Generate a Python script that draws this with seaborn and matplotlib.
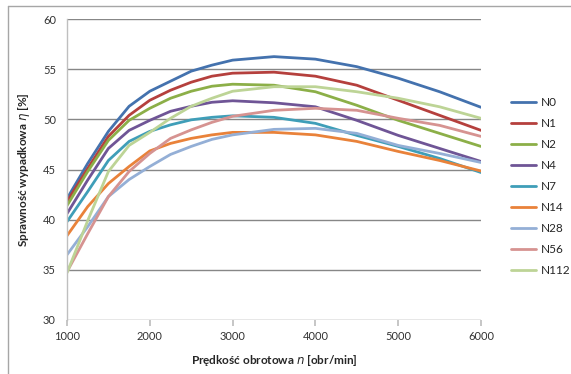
import matplotlib
matplotlib.use("Agg")
import matplotlib.pyplot as plt
import matplotlib.lines as mlines
import seaborn as sns
import pandas as pd

rpm = [1000, 1250, 1500, 1750, 2000, 2250, 2500, 2750, 3000, 3500, 4000, 4500, 5000, 5500, 6000]
series_names = ["N0", "N1", "N2", "N4", "N7", "N14", "N28", "N56", "N112"]
N0 = [42.1, 45.6, 48.8, 51.3, 52.8, 53.8, 54.8, 55.4, 55.9, 56.25, 56.0, 55.25, 54.1, 52.75, 51.2]
N1 = [41.8, 45.1, 48.3, 50.4, 51.9, 52.9, 53.7, 54.3, 54.6, 54.7, 54.3, 53.4, 51.9, 50.4, 48.9]
N2 = [41.4, 44.8, 47.9, 49.9, 51.1, 52.1, 52.8, 53.3, 53.5, 53.4, 52.75, 51.4, 49.9, 48.6, 47.3]
N4 = [40.6, 43.95, 47.1, 48.9, 49.9, 50.8, 51.3, 51.7, 51.85, 51.65, 51.25, 49.9, 48.4, 47.1, 45.8]
N7 = [39.8, 42.8, 45.9, 47.8, 48.8, 49.45, 49.95, 50.2, 50.35, 50.2, 49.6, 48.4, 47.3, 46.1, 44.7]
N14 = [38.4, 41.3, 43.6, 45.3, 46.85, 47.6, 48.1, 48.45, 48.7, 48.7, 48.45, 47.8, 46.8, 45.9, 44.85]
N28 = [36.5, 39.3, 42.3, 44.0, 45.3, 46.5, 47.3, 48.0, 48.45, 49.0, 49.1, 48.6, 47.4, 46.6, 45.7]
N56 = [34.8, 38.6, 42.3, 44.8, 46.6, 48.1, 48.95, 49.7, 50.3, 50.9, 51.1, 50.9, 50.1, 49.4, 48.3]
N112 = [34.7, 39.9, 44.8, 47.4, 48.7, 50.1, 51.3, 52.1, 52.8, 53.25, 53.25, 52.75, 52.1, 51.25, 50.1]
values = [N0, N1, N2, N4, N7, N14, N28, N56, N112]
colors = ["#4472AE", "#B5403D", "#8CAF48", "#6F5596", "#3F9EB8",
          "#E9823A", "#94AFD6", "#D69391", "#BDD496"]
y_ticks = [30, 35, 40, 45, 50, 55, 60]
x_ticks = [1000, 2000, 3000, 4000, 5000, 6000]

rows = []
for name, vals in zip(series_names, values):
    for x, y in zip(rpm, vals):
        rows.append({"rpm": x, "eta": y, "series": name})
df = pd.DataFrame(rows)

sns.set_theme(style="white")
plt.rcParams["font.family"] = ["Lato", "DejaVu Sans"]
plt.rcParams["mathtext.fontset"] = "dejavusans"

fig = plt.figure(figsize=(5.71, 3.74), dpi=100)
W, H = 571, 374
ax = fig.add_axes([67 / W, 1 - 320 / H, (481 - 67) / W, (320 - 19) / H])

sns.lineplot(data=df, x="rpm", y="eta", hue="series", hue_order=series_names,
             palette=colors, linewidth=2.0, ax=ax, legend=False, sort=True)
for ln in ax.get_lines():
    ln.set_solid_joinstyle("round")
    ln.set_solid_capstyle("round")

ax.set_xlim(1000, 6000)
ax.set_ylim(30, 60)
ax.set_xticks(x_ticks)
ax.set_yticks(y_ticks)
ax.set_xticklabels([str(t) for t in x_ticks], fontsize=8, color="#333333")
ax.set_yticklabels([str(t) for t in y_ticks], fontsize=8, color="#333333")
for yt in y_ticks:
    ax.axhline(yt, color="#878787", linewidth=1.0, zorder=0)
for s in ["top", "right", "bottom"]:
    ax.spines[s].set_visible(False)
ax.spines["left"].set_color("#BFBFBF")
ax.spines["left"].set_linewidth(1.0)
ax.tick_params(axis="y", length=0, pad=8)
ax.tick_params(axis="x", length=4, color="#BFBFBF", direction="out", pad=4, bottom=True)
ax.set_xlabel(r"Prędkość obrotowa $\mathit{n}$ [obr/min]", fontsize=8.5,
              fontweight="bold", labelpad=8)
ax.set_ylabel(r"Sprawność wypadkowa $\mathit{\eta}$ [%]", fontsize=8.5,
              fontweight="bold", labelpad=8)

handles = [mlines.Line2D([0], [0], color=c, linewidth=2.0) for c in colors]
leg = fig.legend(handles, series_names, loc="upper left",
                 bbox_to_anchor=(511 / W, 1 - 97 / H), frameon=False,
                 fontsize=8.5, handlelength=2.1, labelspacing=0.85,
                 handletextpad=0.4, borderpad=0, borderaxespad=0)

fig.add_artist(mlines.Line2D([8 / W, 1.0], [1 - 6 / H, 1 - 6 / H],
                             transform=fig.transFigure, color="#A6A6A6", linewidth=1.0))
fig.add_artist(mlines.Line2D([8 / W, 8 / W], [1 - 6 / H, 0.0],
                             transform=fig.transFigure, color="#A6A6A6", linewidth=1.0))

fig.savefig("out.png", dpi=100)
